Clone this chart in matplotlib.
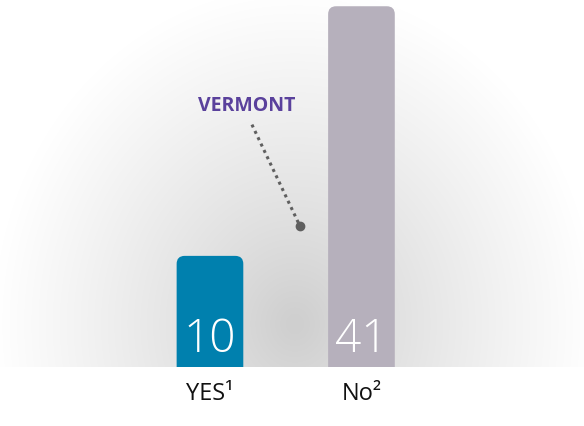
import numpy as np
import matplotlib
matplotlib.use("Agg")
import matplotlib.pyplot as plt
from matplotlib.patches import FancyBboxPatch

# data
categories = ["YES\u00b9", "No\u00b2"]
values = [10, 41]
bar_colors = ["#0080ae", "#b6b0bc"]
callout_label = "VERMONT"

plt.rcParams["font.family"] = ["Open Sans", "DejaVu Sans"]

W, H = 584, 427
BASE_PX = 368          # pixel row of the bar baseline
BASE = -3.8            # value axis origin (bars don't start at zero in the source)
YMAX = 41.9
XMIN, XMAX = -1.386, 2.469
BAR_W = 0.44

fig = plt.figure(figsize=(W / 100, H / 100), dpi=100)
fig.patch.set_facecolor("white")
ax = fig.add_axes([0, (H - BASE_PX) / H, 1, BASE_PX / H])
ax.set_xlim(XMIN, XMAX)
ax.set_ylim(BASE, YMAX)
for s in ax.spines.values():
    s.set_visible(False)

# radial grey glow behind the bars
px = np.arange(W) + 0.5
py = np.arange(BASE_PX) + 0.5
gx, gy = np.meshgrid(px, py)
d = np.sqrt(((gx - 295) / 300.0) ** 2 + ((gy - 325) / 335.0) ** 2)
d = np.clip(d, 0, 1)
soft = np.sqrt(d ** 2 + 0.06 ** 2)
f = (soft - 0.06) / (np.sqrt(1 + 0.06 ** 2) - 0.06)
g = 207 + 48 * f ** 0.8
img = np.dstack([g, g, g]) / 255.0
ax.imshow(img, extent=[XMIN, XMAX, BASE, YMAX], origin="upper",
          aspect="auto", zorder=0, interpolation="bilinear")

# rounded-top bars
x_per_px = (XMAX - XMIN) / W
y_per_px = (YMAX - BASE) / BASE_PX
r = 8 * x_per_px
asp = (8 * y_per_px) / r
for i, (v, c) in enumerate(zip(values, bar_colors)):
    patch = FancyBboxPatch((i - BAR_W / 2, BASE - 3), BAR_W, v - BASE + 3,
                           boxstyle=f"round,pad=0,rounding_size={r}",
                           mutation_aspect=asp, facecolor=c, edgecolor="none",
                           zorder=2)
    ax.add_patch(patch)
    ax.text(i, BASE + 2.0, str(v), ha="center", va="baseline", color="white",
            fontsize=33, fontweight="light", zorder=3)

ax.set_xticks(range(len(categories)))
ax.set_xticklabels(categories, fontsize=17, color="#111111")
ax.tick_params(axis="x", length=0, pad=10)
ax.set_yticks([])

# callout
dot_x, dot_y = 0.594, 13.7
ax.plot([0.277, dot_x], [26.3, dot_y], color="#5f5f5f", lw=2.2,
        linestyle=(0, (1, 1.3)), dash_capstyle="butt", zorder=3)
ax.plot([dot_x], [dot_y], "o", color="#5f5f5f", markersize=6, zorder=4)
ax.text(0.244, 28.7, callout_label, ha="center", va="center",
        color="#5a419c", fontsize=14, fontweight="bold", zorder=4)

fig.savefig("out.png", dpi=100, facecolor="white")
